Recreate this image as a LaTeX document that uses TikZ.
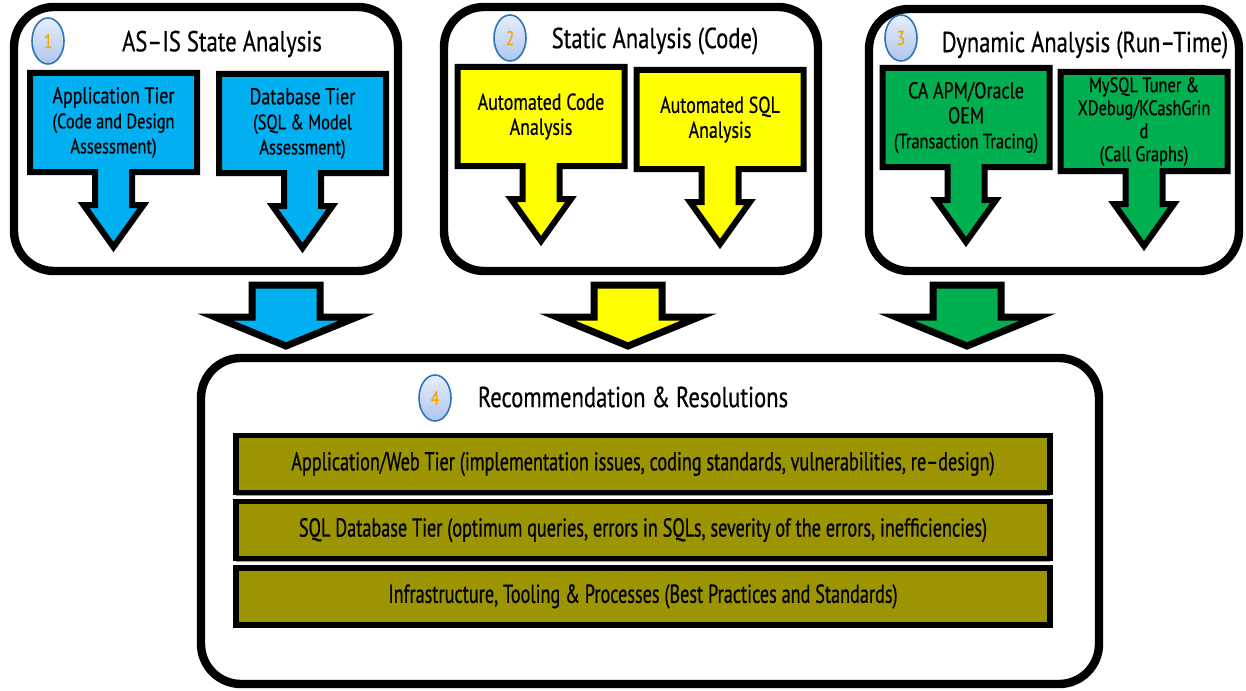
\documentclass[tikz,border=0pt]{standalone}
\usepackage{fontspec}
\setmainfont{PT Sans}[FakeStretch=0.78, FakeBold=0.5]
\newfontfamily\barfont{PT Sans}[FakeStretch=0.70, FakeBold=0.6]
\usetikzlibrary{shapes.geometric}
\usetikzlibrary{positioning}
\usetikzlibrary{backgrounds}
\usetikzlibrary{shadows}

\definecolor{asisblue}{HTML}{00B0F0}
\definecolor{staticyellow}{HTML}{FFFF00}
\definecolor{dynagreen}{HTML}{00B050}
\definecolor{resolive}{HTML}{9C9400}
\definecolor{badgeline}{HTML}{2E75B6}
\definecolor{badgetop}{HTML}{E6EEFB}
\definecolor{badgebottom}{HTML}{AEC6EE}
\definecolor{badgenum}{HTML}{F5A800}

\tikzset{
    panel/.style = {rectangle, rounded corners=20pt, line width=4.2pt, draw=black},
    badge/.style = {ellipse, line width=0.8pt, draw=badgeline, top color=badgetop, bottom color=badgebottom, minimum width=16pt, minimum height=23pt, inner sep=0pt, text=badgenum, font=\fontsize{10}{10}\selectfont},
    ptitle/.style = {font=\fontsize{14.5}{16}\selectfont, text=black},
    tierbox/.style = {rectangle, minimum width=83.5pt, minimum height=49.5pt, outer sep=0pt, inner sep=0pt, align=center, font=\fontsize{11.5}{12.5}\selectfont},
    tiershape/.style = {draw=black, line width=3pt, line join=miter},
    bigarrow/.style = {draw=black, line width=3.5pt, line join=miter},
    resbar/.style = {rectangle, draw=black, line width=2.6pt, fill=resolive, minimum width=407pt, minimum height=28.5pt, font={\barfont\fontsize{13}{15}\selectfont},
        drop shadow={shadow xshift=0pt, shadow yshift=-1.6pt, fill=gray!80, opacity=1}},
}
\newcommand{\sub}{\fontsize{10.5}{12.5}\selectfont}

% block arrow hanging under a tier box
\newcommand{\tierarrow}[2]{%
  \begin{pgfonlayer}{background}
  \path[tiershape, fill=#2] (#1.north west) -- (#1.north east) -- (#1.south east)
    -- ([xshift=9.25pt]#1.south) -- ([xshift=9.25pt,yshift=-16.5pt]#1.south)
    -- ([xshift=15pt,yshift=-16.5pt]#1.south) -- ([yshift=-37.5pt]#1.south)
    -- ([xshift=-15pt,yshift=-16.5pt]#1.south) -- ([xshift=-9.25pt,yshift=-16.5pt]#1.south)
    -- ([xshift=-9.25pt]#1.south) -- (#1.south west) -- cycle;
  \end{pgfonlayer}}

% big block arrow, #1 names its tip
\newcommand{\bigdown}[3]{%
  \coordinate (#1) at (#2,346);
  \path[bigarrow, fill=#3] ([xshift=-17pt,yshift=30.5pt]#1) -- ([xshift=17pt,yshift=30.5pt]#1)
    -- ([xshift=17pt,yshift=14.5pt]#1) -- ([xshift=35.5pt,yshift=14.5pt]#1) -- (#1)
    -- ([xshift=-35.5pt,yshift=14.5pt]#1) -- ([xshift=-17pt,yshift=14.5pt]#1) -- cycle;}

\begin{document}
\begin{tikzpicture}[x=0.5pt, y=-0.5pt]

  \begin{pgfonlayer}{background}
    \fill[white] (0,0) rectangle (1246,690);
  \end{pgfonlayer}
  \useasboundingbox (0,0) rectangle (1246,690);

  % top panels
  \node[panel, minimum width=192pt, minimum height=132pt] (p1) at (206,139) {};
  \node[panel, minimum width=187pt, minimum height=132pt] (p2) at (631,139) {};
  \node[panel, minimum width=185pt, minimum height=131pt] (p3) at (1054,140) {};

  \node[badge] (b1) at (48,41) {1};
  \node[badge] (b2) at (510,38) {2};
  \node[badge] (b3) at (901,38) {3};

  \node[ptitle] (t1) at (222,44) {AS\textendash IS State Analysis};
  \node[ptitle] (t2) at (655,41) {Static Analysis (Code)};
  \node[ptitle] (t3) at (1085,45) {Dynamic Analysis (Run\textendash Time)};

  \node[tierbox] (app) at (113.5,122.5) {Application Tier\\{\sub(Code and Design}\\{\sub Assessment)}};
  \node[tierbox] (db) at (302.5,123.5) {Database Tier\\{\sub(SQL \& Model}\\{\sub Assessment)}};
  \node[tierbox] (code) at (541,116.5) {Automated Code\\Analysis};
  \node[tierbox] (sql) at (720,119.5) {Automated SQL\\Analysis};
  \node[tierbox] (apm) at (966,117.5) {CA APM/Oracle\\OEM\\{\sub(Transaction Tracing)}};
  \node[tierbox, font=\fontsize{10.5}{11.5}\selectfont] (tuner) at (1144,121.5) {MySQL Tuner \&\\XDebug/KCashGrin\\d\\(Call Graphs)};

  \tierarrow{app}{asisblue}
  \tierarrow{db}{asisblue}
  \tierarrow{code}{staticyellow}
  \tierarrow{sql}{staticyellow}
  \tierarrow{apm}{dynagreen}
  \tierarrow{tuner}{dynagreen}

  % arrows into the results panel
  \bigdown{d1}{286}{asisblue}
  \bigdown{d2}{628}{staticyellow}
  \bigdown{d3}{967}{dynagreen}

  % results panel
  \node[panel, minimum width=449pt, minimum height=163pt] (p4) at (650,521) {};
  \node[badge] (b4) at (435,398) {4};
  \node[ptitle] (t4) at (633,397) {Recommendation \& Resolutions};

  \node[resbar] (bar1) at (643,464) {Application/Web Tier (implementation issues, coding standards, vulnerabilities, re\textendash design)};
  \node[resbar, below=2pt of bar1] (bar2) {SQL Database Tier (optimum queries, errors in SQLs, severity of the errors, inefficiencies)};
  \node[resbar, below=2pt of bar2] (bar3) {Infrastructure, Tooling \& Processes (Best Practices and Standards)};

\end{tikzpicture}
\end{document}
